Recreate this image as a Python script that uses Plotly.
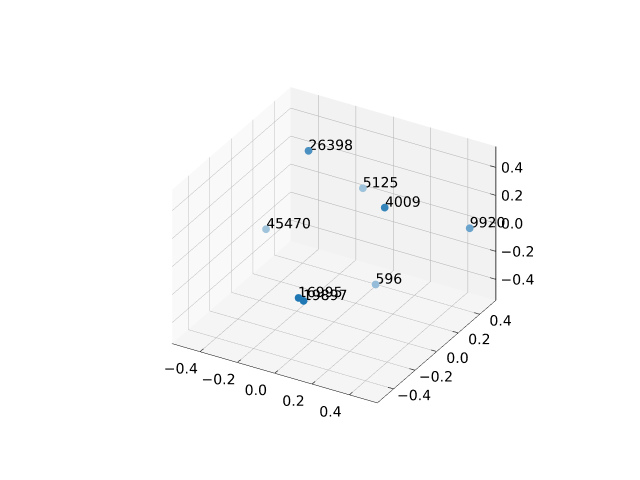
import plotly.graph_objects as go

labels = ["26398", "5125", "4009", "9920", "45470", "596", "16995", "19897"]
xs = [-0.219, -0.064, 0.208, 0.483, -0.419, 0.028, 0.031, 0.079]
ys = [0.142, 0.378, 0.11, 0.4225, 0.094, 0.337, -0.383, -0.42]
zs = [0.495, 0.13, 0.275, 0.025, -0.11, -0.495, -0.11, -0.088]
alphas = [0.80, 0.40, 0.90, 0.65, 0.40, 0.45, 1.0, 1.0]
ticks = [-0.4, -0.2, 0.0, 0.2, 0.4]
tick_text = ["\u22120.4", "\u22120.2", "0.0", "0.2", "0.4"]
z_tick_text = ["\u22120.4", "\u22120.2", "  0.0", "  0.2", "  0.4"]
axis_low, axis_high = -0.55, 0.55
label_dx, label_dy = -0.08, 0.018
z_label_dx, z_label_dy = -0.032, -0.018
tick_len = 0.03


def blend(a):
    base, bg = (31, 119, 180), (245, 245, 245)
    return "#%02x%02x%02x" % tuple(round(b * a + g * (1 - a)) for b, g in zip(base, bg))


def axis(bg, labelled=True, ticklen=4):
    return dict(
        range=[axis_low, axis_high], tickvals=ticks, ticktext=tick_text, title=dict(text=""),
        showbackground=True, backgroundcolor=bg, gridcolor="#b0b0b0", gridwidth=1,
        showline=labelled, linecolor="black", linewidth=1,
        ticks="outside" if labelled else "", ticklen=ticklen, tickangle=0,
        showticklabels=labelled,
        tickcolor="white", tickfont=dict(family="DejaVu Sans", size=13, color="black"),
        zeroline=False, showspikes=False,
    )


fig = go.Figure()
fig.add_trace(go.Scatter3d(
    x=xs, y=ys, z=zs, mode="markers",
    marker=dict(size=4.5, color=[blend(a) for a in alphas], line=dict(width=0)),
))
fig.add_trace(go.Scatter3d(
    x=[v + label_dx for v in xs], y=[v + label_dy for v in ys], z=zs,
    text=labels, mode="text", textposition="middle right",
    textfont=dict(family="DejaVu Sans", size=14, color="black"),
))
# z axis drawn on the right-hand vertical edge, as in the reference
fig.add_trace(go.Scatter3d(
    x=[axis_high, axis_high], y=[axis_high, axis_high], z=[axis_low, axis_high],
    mode="lines", line=dict(color="black", width=1.5),
))
tx, ty, tz = [], [], []
for t in ticks:
    # z ticks on the right edge
    tx += [axis_high - tick_len, axis_high, None]
    ty += [axis_high, axis_high, None]
    tz += [t, t, None]
    # x ticks on the front floor edge
    tx += [t, t, None]
    ty += [axis_low, axis_low + tick_len, None]
    tz += [axis_low, axis_low, None]
    # y ticks on the right floor edge
    tx += [axis_high, axis_high - tick_len, None]
    ty += [t, t, None]
    tz += [axis_low, axis_low, None]
fig.add_trace(go.Scatter3d(
    x=tx, y=ty, z=tz, mode="lines", line=dict(color="black", width=1.5),
))
fig.add_trace(go.Scatter3d(
    x=[axis_high + z_label_dx] * 5, y=[axis_high + z_label_dy] * 5, z=ticks,
    text=z_tick_text, mode="text",
    textposition="middle right",
    textfont=dict(family="DejaVu Sans", size=14, color="black"),
))
fig.update_layout(
    width=640, height=480, margin=dict(l=0, r=0, t=0, b=0), autosize=False,
    paper_bgcolor="white", showlegend=False,
    scene=dict(
        domain=dict(x=[0.019, 1], y=[0.0125, 1]),
        xaxis=axis("#f9f9f9", ticklen=6), yaxis=axis("#f2f2f2", ticklen=20),
        zaxis=axis("#f5f5f5", labelled=False),
        aspectmode="manual", aspectratio=dict(x=1, y=1, z=0.75),
        camera=dict(eye=dict(x=0.866, y=-1.5, z=1.0), up=dict(x=0, y=0, z=1),
                    center=dict(x=0, y=0, z=0), projection=dict(type="orthographic")),
    ),
)
fig.write_html("out.html")
